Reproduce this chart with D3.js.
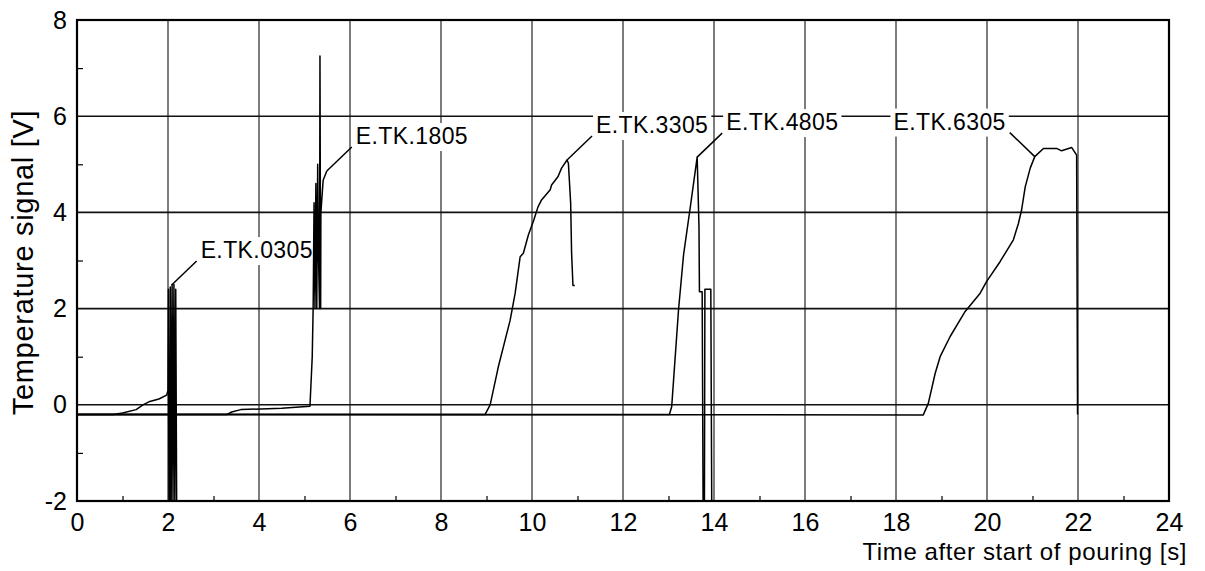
<!DOCTYPE html>
<html>
<head>
<meta charset="utf-8">
<script src="https://cdn.jsdelivr.net/npm/d3@7"></script>
<style>
  body { margin: 0; background: #fff; }
  svg { display: block; font-family: "Liberation Sans", Arial, sans-serif; }
</style>
</head>
<body>
<svg id="chart" width="1205" height="571"></svg>
<script>
// time [s] / signal [V]
let tk0305 = [[0,-0.2],[0.8,-0.2],[1.0,-0.17],[1.3,-0.1],[1.45,0.0],[1.6,0.07],[1.8,0.12],[1.97,0.2],[2.0,0.3],
  [2.01,2.4],[2.02,-2],[2.04,-2],[2.05,2.45],[2.07,-2],[2.09,2.5],[2.11,-2],[2.13,2.5],[2.15,-2],[2.17,2.4],[2.19,-2]];
let tk1805 = [[0,-0.2],[3.3,-0.2],[3.4,-0.15],[3.6,-0.1],[4.5,-0.07],[5.12,-0.03],[5.17,1.0],[5.19,2.0],[5.21,4.2],
  [5.23,2.0],[5.25,4.6],[5.27,2.0],[5.29,5.0],[5.31,3.0],[5.33,2.0],[5.34,7.25],[5.355,2.0],[5.36,3.99],
  [5.41,4.67],[5.49,4.86]];
let tk3305 = [[0,-0.2],[8.97,-0.2],[9.08,0.0],[9.26,0.79],[9.52,1.76],[9.63,2.32],[9.74,3.08],[9.81,3.15],[9.92,3.53],
  [10.04,3.84],[10.13,4.11],[10.21,4.26],[10.4,4.47],[10.43,4.57],[10.57,4.74],[10.65,4.92],[10.77,5.09],
  [10.8,5.02],[10.85,4.19],[10.87,3.16],[10.9,2.48],[10.94,2.48]];
let tk4805 = [[0,-0.2],[13.02,-0.2],[13.07,-0.04],[13.22,1.97],[13.33,3.11],[13.47,4.05],[13.63,5.15],[13.67,3.7],
  [13.68,2.35],[13.74,2.35],[13.76,-2],[13.79,-2],[13.8,2.4],[13.93,2.4],[13.95,-2]];
let tk6305 = [[0,-0.2],[18.6,-0.21],[18.71,0.03],[18.86,0.65],[18.97,1.0],[19.19,1.42],[19.52,1.94],[19.85,2.32],
  [19.99,2.56],[20.29,2.98],[20.58,3.43],[20.69,3.77],[20.76,4.05],[20.84,4.53],[20.95,4.92],[21.05,5.16],
  [21.24,5.33],[21.53,5.33],[21.64,5.28],[21.86,5.35],[21.97,5.19],[21.99,-0.2]];

let seriesNames = ["E.TK.0305","E.TK.1805","E.TK.3305","E.TK.4805","E.TK.6305"];
let seriesData = [tk0305, tk1805, tk3305, tk4805, tk6305];
// point on each curve where the label leader starts, and which side the text goes
let labelAnchors = [[2.08,2.49],[5.49,4.86],[10.77,5.09],[13.63,5.15],[21.05,5.16]];
let labelSides = [1, 1, 1, 1, -1];

let xTicks = d3.range(0, 25, 2);
let yTicks = d3.range(-2, 9, 2);
let xMinor = d3.range(1, 24, 2);
let yMinor = d3.range(-1, 8, 2);

let svg = d3.select("#chart");
let plotL = 77, plotT = 20, plotR = 1169, plotB = 501;

let x = d3.scaleLinear().domain([0, 24]).range([plotL, plotR]);
let y = d3.scaleLinear().domain([-2, 8]).range([plotB, plotT]);

svg.append("defs").append("clipPath").attr("id", "plotClip")
  .append("rect")
  .attr("x", plotL).attr("y", plotT)
  .attr("width", plotR - plotL).attr("height", plotB - plotT);

// grid
let grid = svg.append("g").attr("class", "grid");
grid.selectAll("line.v").data(xTicks).enter().append("line")
  .attr("x1", d => x(d)).attr("x2", d => x(d))
  .attr("y1", plotT).attr("y2", plotB)
  .style("stroke", "#111").style("stroke-width", 1.1);
grid.selectAll("line.h").data(yTicks).enter().append("line")
  .attr("x1", plotL).attr("x2", plotR)
  .attr("y1", d => y(d)).attr("y2", d => y(d))
  .style("stroke", "#111").style("stroke-width", 1.6);

// minor ticks, pointing inwards on left and bottom
svg.append("g")
  .attr("transform", "translate(0," + plotB + ")")
  .call(d3.axisBottom(x).tickValues(xMinor).tickSize(-5).tickFormat(""))
  .call(g => g.select(".domain").remove())
  .selectAll("line").style("stroke-width", 1.2);
svg.append("g")
  .attr("transform", "translate(" + plotL + ",0)")
  .call(d3.axisLeft(y).tickValues(yMinor).tickSize(-6).tickFormat(""))
  .call(g => g.select(".domain").remove())
  .selectAll("line").style("stroke-width", 1.2);

// tick labels
svg.append("g")
  .attr("transform", "translate(0," + plotB + ")")
  .call(d3.axisBottom(x).tickValues(xTicks).tickSize(0).tickPadding(12).tickFormat(d => String(d)))
  .call(g => g.select(".domain").remove())
  .selectAll("text")
  .style("font-family", "Liberation Sans, Arial, sans-serif")
  .style("font-size", "25px").style("fill", "#000");
svg.append("g")
  .attr("transform", "translate(" + plotL + ",0)")
  .call(d3.axisLeft(y).tickValues(yTicks).tickSize(0).tickPadding(10).tickFormat(d => String(d)))
  .call(g => g.select(".domain").remove())
  .selectAll("text")
  .style("font-family", "Liberation Sans, Arial, sans-serif")
  .style("font-size", "25px").style("fill", "#000");

// axis titles
svg.append("text")
  .attr("transform", "translate(33," + ((plotT + plotB) / 2 + 2) + ") rotate(-90)")
  .style("text-anchor", "middle")
  .style("font-size", "29px")
  .style("letter-spacing", "0.7px")
  .text("Temperature signal [V]");
svg.append("text")
  .attr("x", 1187).attr("y", 560)
  .style("text-anchor", "end")
  .style("font-size", "24px")
  .style("letter-spacing", "0.6px")
  .text("Time after start of pouring [s]");

// label boxes sit over the grid but under the curves
let labelLayer = svg.append("g").attr("class", "labels");

// curves
let line = d3.line().x(d => x(d[0])).y(d => y(d[1]));
svg.append("g")
  .attr("clip-path", "url(#plotClip)")
  .selectAll("path")
  .data(seriesData)
  .enter().append("path")
  .attr("d", line)
  .style("fill", "none")
  .style("stroke", "#000")
  .style("stroke-width", 1.5)
  .style("stroke-linejoin", "round");

// labels with leader lines
seriesNames.forEach((name, i) => {
  let ax = x(labelAnchors[i][0]), ay = y(labelAnchors[i][1]);
  let s = labelSides[i];
  let g = labelLayer.append("g");
  let t = g.append("text")
    .attr("x", ax + s * 29)
    .attr("y", ay - 27)
    .style("text-anchor", s > 0 ? "start" : "end")
    .style("font-size", "23px")
    .style("letter-spacing", "0.4px")
    .text(name);
  let bb = t.node().getBBox();
  g.insert("rect", "text")
    .attr("x", bb.x - 3).attr("y", bb.y)
    .attr("width", bb.width + 6).attr("height", bb.height + 2)
    .style("fill", "#fff");
  svg.append("line")
    .attr("x1", ax).attr("y1", ay)
    .attr("x2", ax + s * 25).attr("y2", ay - 24)
    .style("stroke", "#000").style("stroke-width", 1.5);
});

// frame
svg.append("rect")
  .attr("x", plotL).attr("y", plotT)
  .attr("width", plotR - plotL).attr("height", plotB - plotT)
  .style("fill", "none").style("stroke", "#000").style("stroke-width", 2.2);
</script>
</body>
</html>
